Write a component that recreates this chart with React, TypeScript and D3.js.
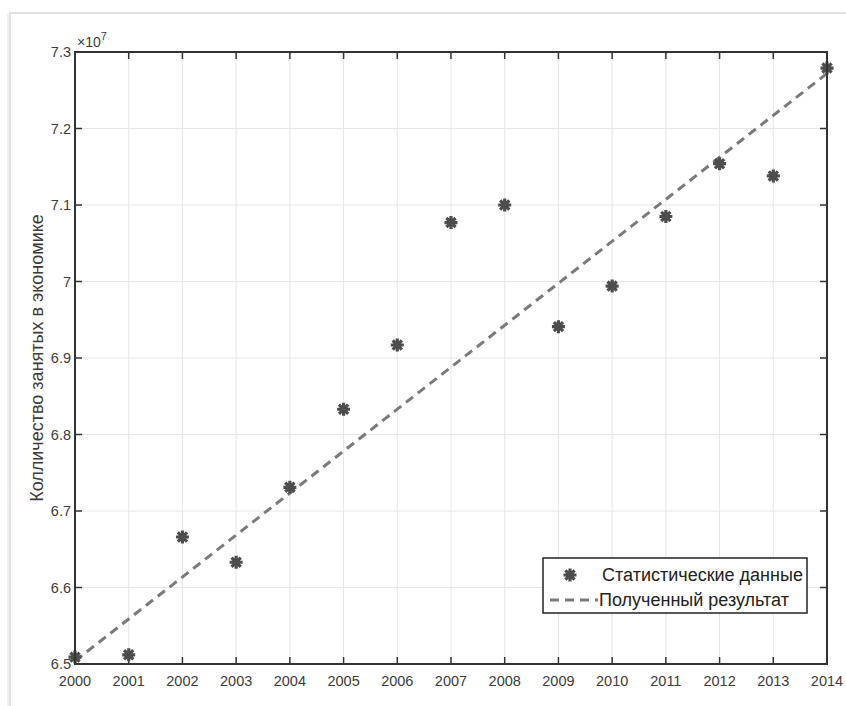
import React from "react";
import * as d3 from "d3";

const years = [2000, 2001, 2002, 2003, 2004, 2005, 2006, 2007, 2008, 2009, 2010, 2011, 2012, 2013, 2014];
// employed persons, x1e7
const employed = [6.509, 6.512, 6.666, 6.633, 6.731, 6.833, 6.917, 7.077, 7.1, 6.941, 6.994, 7.085, 7.154, 7.138, 7.279];
const fitYears = [2000, 2014];
const fitValues = [6.504, 7.272];
const yTicks = [6.5, 6.6, 6.7, 6.8, 6.9, 7, 7.1, 7.2, 7.3];
const legendLabels = ["Статистические данные", "Полученный результат"];
const yTitle = "Колличество занятых в экономике";

const W = 846;
const H = 706;
const M = { left: 75, right: 827, top: 52, bottom: 664 };
const FONT = "'Liberation Sans', Arial, sans-serif";
const TXT = "#3c3c3c";

const starPath = (r: number) => {
  const p = d3.path();
  for (let i = 0; i < 4; i++) {
    const a = (i * Math.PI) / 4;
    p.moveTo(-r * Math.cos(a), -r * Math.sin(a));
    p.lineTo(r * Math.cos(a), r * Math.sin(a));
  }
  return p.toString();
};

const Star = ({ x, y }: { x: number; y: number }) => (
  <g transform={`translate(${x},${y})`}>
    <path d={starPath(6.5)} stroke="#4d4d4d" strokeWidth={3.2} fill="none" />
    <circle r={3.5} fill="#4d4d4d" />
  </g>
);

export default function App() {
  const x = d3.scaleLinear().domain([2000, 2014]).range([M.left, M.right]);
  const y = d3.scaleLinear().domain([6.5, 7.3]).range([M.bottom, M.top]);
  const fitLine = d3
    .line<number>()
    .x((_, i) => x(fitYears[i]))
    .y((d) => y(d));

  const lg = { x: 543, y: 558, w: 264, h: 55 };

  return (
    <div style={{ position: "absolute", left: 0, top: 0 }}>
      <svg width={W} height={H} style={{ display: "block", background: "#fff" }}>
        {/* page frame */}
        <rect x={10} y={13} width={W} height={H} fill="none" stroke="#e2e2e2" strokeWidth={2} />
        <line x1={8} y1={14} x2={8} y2={H} stroke="#f0f0f0" strokeWidth={2} />

        {/* grid */}
        <g stroke="#e6e6e6" strokeWidth={1}>
          {years.map((t) => (
            <line key={"gx" + t} x1={x(t)} x2={x(t)} y1={M.top} y2={M.bottom} />
          ))}
          {yTicks.map((t) => (
            <line key={"gy" + t} x1={M.left} x2={M.right} y1={y(t)} y2={y(t)} />
          ))}
        </g>

        {/* ticks on all sides, inward */}
        <g stroke="#333" strokeWidth={1.5}>
          {years.map((t) => (
            <g key={"tx" + t}>
              <line x1={x(t)} x2={x(t)} y1={M.bottom} y2={M.bottom - 7} />
              <line x1={x(t)} x2={x(t)} y1={M.top} y2={M.top + 7} />
            </g>
          ))}
          {yTicks.map((t) => (
            <g key={"ty" + t}>
              <line x1={M.left} x2={M.left + 7} y1={y(t)} y2={y(t)} />
              <line x1={M.right} x2={M.right - 7} y1={y(t)} y2={y(t)} />
            </g>
          ))}
        </g>

        {/* fitted line */}
        <path d={fitLine(fitValues) || ""} fill="none" stroke="#7a7a7a" strokeWidth={3} strokeDasharray="9,6" />

        {/* data */}
        {years.map((yr, i) => (
          <Star key={yr} x={x(yr)} y={y(employed[i])} />
        ))}

        {/* axes box */}
        <rect
          x={M.left}
          y={M.top}
          width={M.right - M.left}
          height={M.bottom - M.top}
          fill="none"
          stroke="#333"
          strokeWidth={2}
        />

        {/* tick labels */}
        <g fontFamily={FONT} fontSize={14.5} fill={TXT}>
          {years.map((t) => (
            <text key={"lx" + t} x={x(t)} y={M.bottom + 22} textAnchor="middle">
              {t}
            </text>
          ))}
          {yTicks.map((t) => (
            <text key={"ly" + t} x={M.left - 4} y={y(t) + 5} textAnchor="end">
              {d3.format("~g")(t)}
            </text>
          ))}
          <text x={M.left + 2} y={M.top - 5} fontSize={14}>
            ×10
            <tspan dy={-7} fontSize={11}>
              7
            </tspan>
          </text>
        </g>

        {/* y title */}
        <text
          transform={`translate(43,${(M.top + M.bottom) / 2}) rotate(-90)`}
          textAnchor="middle"
          fontFamily={FONT}
          fontSize={18}
          fill={TXT}
        >
          {yTitle}
        </text>

        {/* legend */}
        <g fontFamily={FONT} fontSize={18} fill="#222">
          <rect x={lg.x} y={lg.y} width={lg.w} height={lg.h} fill="#fff" stroke="#222" strokeWidth={1.5} />
          <Star x={lg.x + 27} y={lg.y + 17} />
          <text x={lg.x + 59} y={lg.y + 23}>
            {legendLabels[0]}
          </text>
          <line
            x1={lg.x + 7}
            x2={lg.x + 55}
            y1={lg.y + 42}
            y2={lg.y + 42}
            stroke="#7a7a7a"
            strokeWidth={3}
            strokeDasharray="9,6"
          />
          <text x={lg.x + 56} y={lg.y + 48}>
            {legendLabels[1]}
          </text>
        </g>
      </svg>
    </div>
  );
}
